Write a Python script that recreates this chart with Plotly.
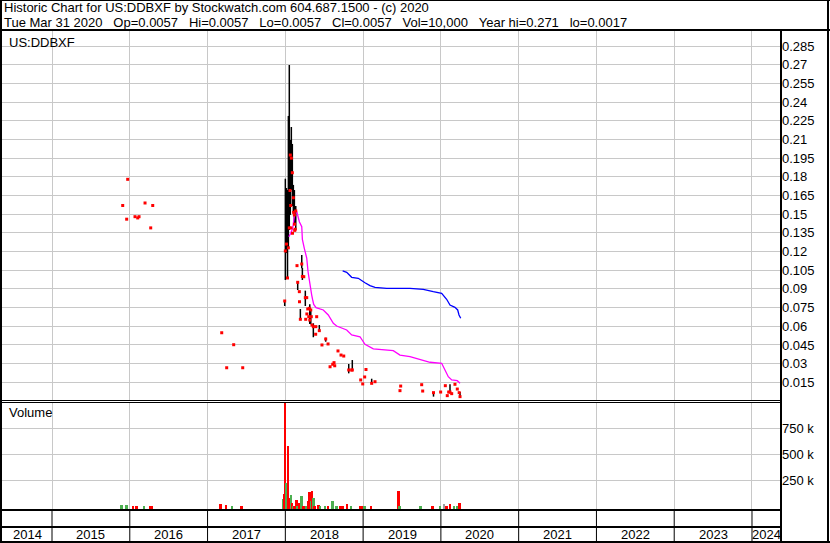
import plotly.graph_objects as go

# ---------------- data (decimal year) ----------------
bar_t = [2015.909, 2015.960, 2015.973, 2016.067, 2016.102, 2016.119, 2016.196, 2016.269, 2016.295,
         2017.182, 2017.246, 2017.336, 2017.452, 2017.992,
         2018.000, 2018.015, 2018.028, 2018.039, 2018.051, 2018.060, 2018.064, 2018.069, 2018.072,
         2018.077, 2018.090, 2018.092, 2018.103, 2018.106, 2018.116, 2018.118, 2018.121, 2018.126,
         2018.134, 2018.150, 2018.159, 2018.180, 2018.182, 2018.193, 2018.211, 2018.219, 2018.237,
         2018.257, 2018.262, 2018.275, 2018.277, 2018.288, 2018.301, 2018.309, 2018.314, 2018.327,
         2018.334, 2018.343, 2018.360, 2018.390, 2018.392, 2018.403, 2018.437, 2018.471, 2018.519,
         2018.549, 2018.575, 2018.609, 2018.626, 2018.635, 2018.677, 2018.716, 2018.751, 2018.815,
         2018.853, 2018.861, 2018.969, 2018.995, 2019.020, 2019.037, 2019.110, 2019.153,
         2019.474, 2019.483, 2019.753, 2019.766, 2019.905, 2019.997, 2020.057, 2020.082, 2020.100,
         2020.117, 2020.139, 2020.181, 2020.211, 2020.235, 2020.246]
bar_hi = [0.157, 0.146, 0.178, 0.148, 0.147, 0.148, 0.159, 0.139, 0.157,
          0.0548, 0.0267, 0.0452, 0.0267, 0.0803,
          0.1785, 0.171, 0.1694, 0.2289, 0.2698, 0.169, 0.2096, 0.157, 0.139,
          0.220, 0.2064, 0.1347, 0.1735, 0.1515, 0.1694, 0.142, 0.137, 0.1379,
          0.1566, 0.1087, 0.0958, 0.0878, 0.0797, 0.0739, 0.1172, 0.1068, 0.0998,
          0.0886, 0.0656, 0.083, 0.0699, 0.0739, 0.0677, 0.0744, 0.0776, 0.0731,
          0.0677, 0.061, 0.0624, 0.0536, 0.0597, 0.0677, 0.061, 0.045, 0.0508,
          0.0458, 0.0275, 0.0295, 0.0308, 0.0283, 0.0402, 0.0369, 0.0361, 0.0297,
          0.0249, 0.0329, 0.0169, 0.0137, 0.0193, 0.0253, 0.0179, 0.0155,
          0.0085, 0.012, 0.0131, 0.008, 0.007, 0.0072, 0.0123, 0.0043, 0.0072,
          0.0134, 0.0059, 0.0134, 0.0096, 0.0067, 0.0072]
bar_lo = [0.157, 0.146, 0.178, 0.148, 0.147, 0.148, 0.159, 0.139, 0.157,
          0.0548, 0.0267, 0.0452, 0.0267, 0.0763,
          0.0972, 0.1188, 0.0988, 0.123, 0.1373, 0.169, 0.1494, 0.157, 0.139,
          0.1694, 0.1566, 0.1347, 0.1518, 0.1515, 0.1413, 0.142, 0.137, 0.1379,
          0.1373, 0.1087, 0.0891, 0.0878, 0.0797, 0.065, 0.1066, 0.0972, 0.0998,
          0.0763, 0.0656, 0.083, 0.0699, 0.0739, 0.0677, 0.0744, 0.0618, 0.0616,
          0.0677, 0.061, 0.0512, 0.0536, 0.0597, 0.0677, 0.0556, 0.045, 0.0476,
          0.0458, 0.0275, 0.0295, 0.0308, 0.0283, 0.0402, 0.0369, 0.0361, 0.0222,
          0.0249, 0.0249, 0.0169, 0.0137, 0.0193, 0.0253, 0.0142, 0.0155,
          0.0075, 0.012, 0.0131, 0.008, 0.0035, 0.0072, 0.0123, 0.0043, 0.0072,
          0.0062, 0.0059, 0.0134, 0.0096, 0.0067, 0.0035]
bar_cl = [0.157, 0.146, 0.178, 0.148, 0.147, 0.148, 0.159, 0.139, 0.157,
          0.0548, 0.0267, 0.0452, 0.0267, 0.0803,
          0.1205, 0.126, 0.0988, 0.123, 0.139, 0.169, 0.1975, 0.157, 0.139,
          0.195, 0.1833, 0.1347, 0.1632, 0.1515, 0.1494, 0.142, 0.137, 0.1379,
          0.1526, 0.1087, 0.0953, 0.0878, 0.0797, 0.0656, 0.1100, 0.1000, 0.0998,
          0.0830, 0.0656, 0.083, 0.0699, 0.0739, 0.0677, 0.0744, 0.065, 0.0731,
          0.0677, 0.061, 0.0597, 0.0536, 0.0597, 0.0677, 0.0565, 0.045, 0.0498,
          0.0458, 0.0275, 0.0295, 0.0308, 0.0283, 0.0402, 0.0369, 0.0361, 0.0249,
          0.0249, 0.0249, 0.0169, 0.0137, 0.0193, 0.0253, 0.0142, 0.0155,
          0.0083, 0.012, 0.0131, 0.008, 0.0067, 0.0072, 0.0123, 0.0043, 0.0072,
          0.0072, 0.0059, 0.0134, 0.0096, 0.0067, 0.0035]

ma_short_t = [2018.044, 2018.069, 2018.095, 2018.125, 2018.147, 2018.167, 2018.180, 2018.211, 2018.219,
              2018.244, 2018.262, 2018.275, 2018.292, 2018.309, 2018.318, 2018.339, 2018.352, 2018.365,
              2018.395, 2018.488, 2018.552, 2018.617, 2018.660, 2018.789, 2018.853, 2018.960, 2019.024,
              2019.131, 2019.388, 2019.474, 2019.603, 2019.731, 2019.860, 2020.010, 2020.053, 2020.095,
              2020.139, 2020.211, 2020.246]
ma_short_v = [0.1319, 0.1347, 0.1389, 0.1526, 0.1520, 0.1453, 0.1440, 0.1400, 0.1298,
              0.1226, 0.1190, 0.1148, 0.1038, 0.0958, 0.0918, 0.0851, 0.0811, 0.0776,
              0.0749, 0.0731, 0.0691, 0.0624, 0.0602, 0.0570, 0.0530, 0.0516, 0.0455,
              0.0418, 0.0404, 0.0369, 0.0356, 0.0335, 0.0311, 0.0303, 0.0249, 0.0195,
              0.0169, 0.0163, 0.0142]

ma_long_t = [2018.737, 2018.789, 2018.853, 2018.938, 2019.024, 2019.088, 2019.153, 2019.303, 2019.603,
             2019.774, 2019.902, 2020.010, 2020.074, 2020.117, 2020.181, 2020.216, 2020.233, 2020.255]
ma_long_v = [0.1044, 0.1033, 0.0993, 0.0985, 0.0950, 0.0926, 0.0913, 0.0905, 0.0905,
             0.0897, 0.0878, 0.0865, 0.0817, 0.0771, 0.0752, 0.0731, 0.0691, 0.0664]

vol_t = [2015.896, 2015.960, 2016.045, 2016.089, 2016.183, 2016.260, 2016.282,
         2017.169, 2017.237, 2017.318, 2017.439,
         2017.974, 2017.987, 2018.003, 2018.018, 2018.039, 2018.051, 2018.080, 2018.090, 2018.103,
         2018.116, 2018.147, 2018.159, 2018.180, 2018.211, 2018.237, 2018.262, 2018.275, 2018.296,
         2018.314, 2018.330, 2018.347, 2018.365, 2018.378, 2018.429, 2018.446, 2018.510, 2018.553,
         2018.609, 2018.660, 2018.712, 2018.737, 2018.801, 2018.844, 2018.960, 2018.982, 2019.020,
         2019.101, 2019.457, 2019.470, 2019.740, 2019.894, 2019.988, 2020.046, 2020.074, 2020.117,
         2020.172, 2020.211, 2020.242]
vol_v = [8000, 15000, 6000, 6000, 5000, 6000, 6000,
         25000, 8000, 5000, 5000,
         67000, 118000, 1000000, 227000, 580000, 77000, 109000, 35000, 5000,
         4000, 61000, 5000, 29000, 99000, 5000, 5000, 3000, 51000,
         135000, 51000, 147000, 77000, 5000, 12000, 3000, 2000, 4000,
         51000, 4000, 4000, 4000, 25000, 4000, 3000, 3000, 5000,
         5000, 147000, 3000, 5000, 3000, 2000, 22000, 3000, 22000,
         2000, 3000, 35000]
vol_dir = ["up", "up", "down", "down", "up", "down", "down",
           "down", "down", "up", "down",
           "up", "down", "down", "up", "down", "down", "up", "down", "up",
           "down", "down", "up", "down", "up", "down", "down", "up", "down",
           "down", "up", "down", "up", "down", "down", "up", "up", "down",
           "up", "up", "down", "down", "down", "up", "down", "down", "up",
           "down", "down", "up", "up", "down", "up", "flat", "down", "down",
           "up", "up", "down"]

years = list(range(2014, 2025))
price_ticks = [0.015, 0.03, 0.045, 0.06, 0.075, 0.09, 0.105, 0.12, 0.135, 0.15,
               0.165, 0.18, 0.195, 0.21, 0.225, 0.24, 0.255, 0.27, 0.285]
vol_ticks = [250000, 500000, 750000]
vol_tick_text = ["250 k", "500 k", "750 k"]

header1 = "Historic Chart for US:DDBXF by Stockwatch.com 604.687.1500 - (c) 2020"
header2 = ("Tue Mar 31 2020&nbsp;&nbsp;&nbsp;Op=0.0057&nbsp;&nbsp;&nbsp;Hi=0.0057&nbsp;&nbsp;&nbsp;"
           "Lo=0.0057&nbsp;&nbsp;&nbsp;Cl=0.0057&nbsp;&nbsp;&nbsp;Vol=10,000&nbsp;&nbsp;&nbsp;"
           "Year hi=0.271&nbsp;&nbsp;&nbsp;lo=0.0017")

# ---------------- layout geometry ----------------
W, H = 830, 543
FONT = "Arial, Liberation Sans, sans-serif"
X_MIN, X_MAX = 2014.357, 2024.373
GRID = "#c8c8c8"


def px(x):
    return x / W


def py(y):
    return 1 - y / H


xdom = [px(2), px(781)]

fig = go.Figure()

# price bars (high-low lines)
lx, ly = [], []
for t, h, l in zip(bar_t, bar_hi, bar_lo):
    if h > l:
        lx += [t, t, None]
        ly += [h, l, None]
fig.add_trace(go.Scatter(x=lx, y=ly, mode="lines", line=dict(color="black", width=1.5),
                         xaxis="x", yaxis="y", hoverinfo="skip", showlegend=False))
fig.add_trace(go.Scatter(x=ma_short_t, y=ma_short_v, mode="lines", line=dict(color="#ff00ff", width=1.3),
                         xaxis="x", yaxis="y", showlegend=False))
fig.add_trace(go.Scatter(x=ma_long_t, y=ma_long_v, mode="lines", line=dict(color="#0000ff", width=1.3),
                         xaxis="x", yaxis="y", showlegend=False))
fig.add_trace(go.Scatter(x=bar_t, y=bar_cl, mode="markers",
                         marker=dict(symbol="square", size=3, color="#ff0000", line=dict(width=0)),
                         xaxis="x", yaxis="y", showlegend=False))

# volume bars
VOL_LO, VOL_HI = -36000, 1003000
colmap = {"up": "#4caf50", "down": "#ff0000", "flat": "#a0a0a0"}
fig.add_trace(go.Bar(x=vol_t, y=[v - VOL_LO for v in vol_v], base=VOL_LO, width=0.022,
                     marker=dict(color=[colmap[d] for d in vol_dir], line=dict(width=0)),
                     xaxis="x2", yaxis="y2", showlegend=False))

axis_common = dict(range=[X_MIN, X_MAX], tickvals=years[1:], showticklabels=False,
                   showgrid=True, gridcolor=GRID, gridwidth=1, zeroline=False, ticks="",
                   showline=False, fixedrange=True)

fig.update_layout(
    width=W, height=H, margin=dict(l=0, r=0, t=0, b=0),
    paper_bgcolor="white", plot_bgcolor="white",
    font=dict(family=FONT, size=13, color="black"),
    bargap=0,
    xaxis=dict(domain=xdom, anchor="y", **axis_common),
    xaxis2=dict(domain=xdom, anchor="y2", **axis_common),
    yaxis=dict(domain=[py(400), py(31)], range=[0.000803, 0.2971], side="right",
               tickvals=price_ticks, ticktext=[("%g" % v) for v in price_ticks],
               showgrid=True, gridcolor=GRID, zeroline=False, ticks="", showline=False,
               tickfont=dict(size=13, family=FONT), anchor="x", fixedrange=True),
    yaxis2=dict(domain=[py(510), py(402)], range=[VOL_LO, VOL_HI], side="right",
                tickvals=vol_ticks, ticktext=vol_tick_text,
                showgrid=True, gridcolor=GRID, zeroline=False, ticks="", showline=False,
                tickfont=dict(size=13, family=FONT), anchor="x2", fixedrange=True),
)

shapes = []


def hline(y, x0, x1, w=1):
    shapes.append(dict(type="line", xref="paper", yref="paper", x0=px(x0), x1=px(x1),
                       y0=py(y), y1=py(y), line=dict(color="black", width=w)))


def vline(x, y0, y1, w=1):
    shapes.append(dict(type="line", xref="paper", yref="paper", x0=px(x), x1=px(x),
                       y0=py(y0), y1=py(y1), line=dict(color="black", width=w)))


hline(0.5, 0, 830)
hline(542, 0, 830, 2)
vline(1, 0, 543, 2)
vline(828, 0, 543, 2)
hline(30, 0, 830, 2)
vline(781, 31, 543, 2)
hline(400.5, 0, 781)
hline(402.5, 0, 781)
hline(510, 0, 781, 2)
hline(527, 0, 781, 2)
for yv in years[1:]:
    shapes.append(dict(type="line", xref="x2", yref="paper", x0=yv, x1=yv,
                       y0=py(510), y1=py(541), line=dict(color="black", width=1)))

ann = []
ann.append(dict(text=header1, xref="paper", yref="paper", x=px(2), y=py(8), xanchor="left",
                yanchor="middle", showarrow=False, font=dict(size=13)))
ann.append(dict(text=header2, xref="paper", yref="paper", x=px(2), y=py(22), xanchor="left",
                yanchor="middle", showarrow=False, font=dict(size=13)))
ann.append(dict(text="US:DDBXF", xref="paper", yref="paper", x=px(7), y=py(42), xanchor="left",
                yanchor="middle", showarrow=False, font=dict(size=13)))
ann.append(dict(text="Volume", xref="paper", yref="paper", x=px(7), y=py(413), xanchor="left",
                yanchor="middle", showarrow=False, font=dict(size=13)))
for yv in years:
    c = (max(yv, X_MIN) + min(yv + 1, X_MAX)) / 2
    ann.append(dict(text=str(yv), xref="x2", yref="paper", x=c, y=py(534.5), xanchor="center",
                    yanchor="middle", showarrow=False, font=dict(size=13)))

fig.update_layout(shapes=shapes, annotations=ann)

fig.write_html("out.html", config={"displayModeBar": False},
               post_script="document.body.style.margin='0';")
